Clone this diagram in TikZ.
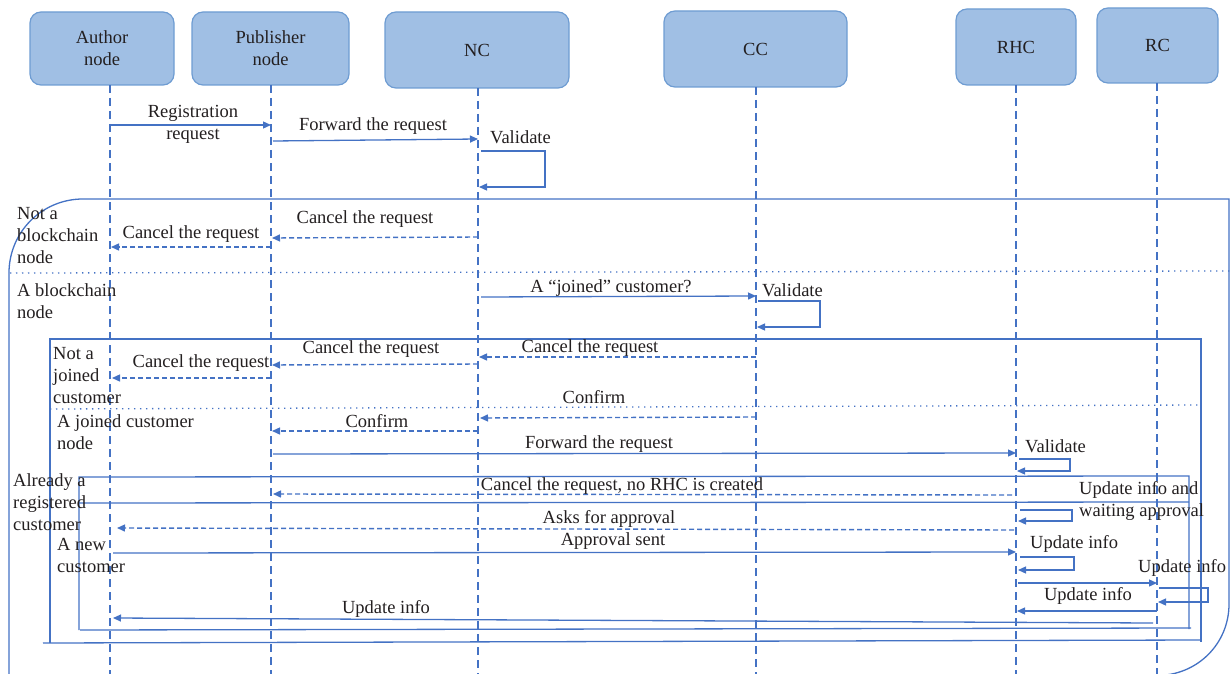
\documentclass[tikz,border=0pt]{standalone}
\usepackage{fontspec}
\setmainfont{Liberation Serif}
\usetikzlibrary{arrows.meta}
\definecolor{linec}{HTML}{4472C4}
\definecolor{boxfill}{HTML}{A0BFE4}
\definecolor{boxline}{HTML}{6E9CD2}
\definecolor{ink}{HTML}{231F20}
\tikzset{
  txt/.style={font=\fontsize{18.5}{22}\selectfont, text=ink},
  actor/.style={txt, draw=boxline, fill=boxfill, line width=1.2pt, rounded corners=11pt, align=center, inner sep=0pt},
  lifeline/.style={linec, line width=1.2pt, dash pattern=on 8pt off 5pt},
  msg/.style={linec, line width=1.3pt, -{Triangle[length=8pt,width=7pt]}},
  reply/.style={msg, line width=1.4pt, dash pattern=on 5pt off 3pt},
  frameline/.style={linec, line width=1.3pt},
  sep/.style={linec, line width=1.3pt, dash pattern=on 1.3pt off 4.7pt},
  % multi-line labels sit on the baseline of their last line
  lbl/.style={txt, inner sep=0pt, anchor=base},
  side/.style={lbl, anchor=base west, align=left},
}
\begin{document}
\begin{tikzpicture}[x=1pt,y=-1pt]
\useasboundingbox (0,0) rectangle (1231,674);

% participants
\node[actor, minimum width=144pt, minimum height=73pt] (author) at (102,48.5) {Author\\node};
\node[actor, minimum width=157pt, minimum height=73pt] (pub) at (270.5,48.5) {Publisher\\node};
\node[actor, minimum width=184pt, minimum height=76pt] (nc) at (477,50) {NC};
\node[actor, minimum width=183pt, minimum height=76pt] (cc) at (755.5,49) {CC};
\node[actor, minimum width=120pt, minimum height=76pt] (rhc) at (1016,47) {RHC};
\node[actor, minimum width=121pt, minimum height=75pt] (rc) at (1157.5,45.5) {RC};

% lifeline tops
\coordinate (lA) at (110,85);
\coordinate (lP) at (271,85);
\coordinate (lN) at (478,88);
\coordinate (lC) at (756,87);
\coordinate (lR) at (1016,85);
\coordinate (lRC) at (1157,83);
\foreach \l in {lA,lP,lN,lC,lR,lRC}
  \draw[lifeline] (\l) -- (\l |- 0,676);

% outer alternative: blockchain node or not
\draw[frameline] (9,680) -- (9,273) .. controls (9,232) and (42,199) .. (83,199)
  -- (1229,199) -- (1229,604) .. controls (1229,644) and (1197,675.5) .. (1157,675.5) -- (9,675.5);
\draw[sep] (10,273) -- (1231,271);

% inner alternative: joined customer or not
\draw[frameline] (50,643) -- (50,339) -- (1201,339) -- (1201,642);
\draw[frameline] (43,643) -- (1201,640);
\draw[sep] (50,409) -- (1201,405);

% innermost alternative: registered or new customer
\draw[frameline] (79,630) -- (79,477) -- (1189,476) -- (1189,629);
\draw[frameline] (80,630) -- (1191,628);
\draw[frameline] (79,503) -- (1189,502);

% registration
\draw[msg] (lA |- 0,125) -- (lP |- 0,125);
\node[lbl, align=center] (t1) at (193,139.5) {Registration\\request};
\draw[msg] ([xshift=2pt]lP |- 0,141) -- (lN |- 0,139);
\node[lbl] (t2) at (373,131) {Forward the request};
\draw[msg] ([xshift=3pt]lN |- 0,151) -- (545,151) |- ([xshift=1pt]lN |- 0,187);
\node[side] (t3) at (490,143) {Validate};

% not a blockchain node
\node[side] (s1) at (17,263) {Not a\\blockchain\\node};
\draw[reply] (lN |- 0,237) -- ([xshift=1pt]lP |- 0,238);
\node[lbl] (t4) at (365,223) {Cancel the request};
\draw[reply] (lP |- 0,247) -- ([xshift=1pt]lA |- 0,247);
\node[lbl] (t5) at (191,238) {Cancel the request};

% a blockchain node
\node[side] (s2) at (17,318) {A blockchain\\node};
\draw[msg] ([xshift=3pt]lN |- 0,297) -- (lC |- 0,296);
\node[lbl] (t6) at (611,292) {A “joined” customer?};
\draw[msg] ([xshift=2pt]lC |- 0,301) -- (820,301) |- ([xshift=1pt]lC |- 0,327);
\node[side] (t7) at (762,296) {Validate};

% not a joined customer
\node[side] (s3) at (53,403) {Not a\\joined\\customer};
\draw[reply] (lC |- 0,357) -- ([xshift=1pt]lN |- 0,357);
\node[lbl] (t8) at (590,352) {Cancel the request};
\draw[reply] (lN |- 0,364) -- ([xshift=1pt]lP |- 0,365);
\node[lbl] (t9) at (371,353) {Cancel the request};
\draw[reply] (lP |- 0,378) -- ([xshift=2pt]lA |- 0,378);
\node[lbl] (t10) at (201,367) {Cancel the request};

% a joined customer node
\node[side] (s4) at (57,449) {A joined customer\\node};
\draw[reply] (lC |- 0,417) -- ([xshift=2pt]lN |- 0,418);
\node[lbl] (t11) at (594,403) {Confirm};
\draw[reply] (lN |- 0,431) -- ([xshift=1pt]lP |- 0,431);
\node[lbl] (t12) at (377,427) {Confirm};
\draw[msg] ([xshift=2pt]lP |- 0,454) -- (lR |- 0,453);
\node[lbl] (t13) at (599,448) {Forward the request};
\draw[msg] ([xshift=3pt]lR |- 0,459) -- (1070,459) |- ([xshift=1pt]lR |- 0,471);
\node[side] (t14) at (1025,452) {Validate};

% already a registered customer
\node[side] (s5) at (13,530) {Already a\\registered\\customer};
\draw[reply] ([xshift=-4pt]lR |- 0,495) -- ([xshift=2pt]lP |- 0,494);
\node[lbl] (t15) at (622,490) {Cancel the request, no RHC is created};

% a new customer
\draw[msg] ([xshift=4pt]lR |- 0,510) -- (1072,510) |- ([xshift=2pt]lR |- 0,521);
\node[side] (t16) at (1079,516) {Update info and\\waiting approval};
\draw[reply] ([xshift=-2pt]lR |- 0,530) -- ([xshift=7pt]lA |- 0,528);
\node[lbl] (t17) at (609,523) {Asks for approval};
\node[side] (s6) at (57,572) {A new\\customer};
\draw[msg] ([xshift=3pt]lA |- 0,553) -- (lR |- 0,552);
\node[lbl] (t18) at (613,545) {Approval sent};
\draw[msg] ([xshift=4pt]lR |- 0,557) -- (1074,557) |- ([xshift=2pt]lR |- 0,570);
\node[side] (t19) at (1030,548) {Update info};
\draw[msg] ([xshift=2pt]lR |- 0,583) -- (lRC |- 0,583);
\node[side] (t20) at (1138,572) {Update info};
\draw[msg] ([xshift=2pt]lRC |- 0,588) -- (1208,588) |- ([xshift=1pt]lRC |- 0,602);
\draw[msg] (lRC |- 0,611) -- ([xshift=1pt]lR |- 0,611);
\node[lbl] (t21) at (1088,600) {Update info};
\draw[msg] ([xshift=-4pt]lRC |- 0,623) -- ([xshift=3pt]lA |- 0,618);
\node[lbl] (t22) at (386,613) {Update info};
\end{tikzpicture}
\end{document}
